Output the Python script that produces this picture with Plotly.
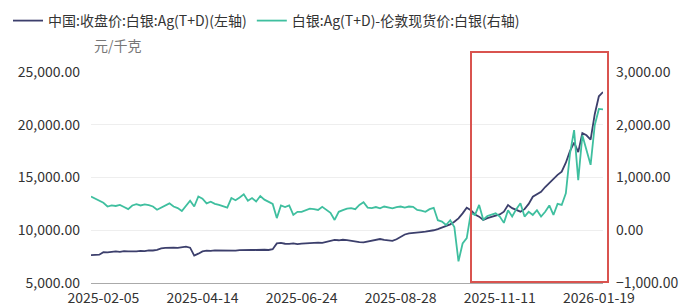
import plotly.graph_objects as go

# 中国:收盘价:白银:Ag(T+D) (元/千克), sampled about every other trading day
ag_td = [
    7650, 7630, 7680, 7920, 7900, 7960, 8000, 7950, 8020, 7990,
    7960, 8000, 8050, 8020, 8100, 8080, 8150, 8280, 8320, 8300,
    8350, 8330, 8400, 8440, 8350, 7600, 7780, 8000, 8060, 8040,
    8100, 8080, 8060, 8110, 8090, 8070, 8120, 8150, 8110, 8140,
    8130, 8170, 8150, 8130, 8200, 8750, 8800, 8720, 8700, 8760,
    8680, 8740, 8780, 8750, 8800, 8830, 8800, 8900, 9000, 9080,
    9050, 9100, 9060, 8980, 8930, 8880, 8860, 8950, 9050, 9120,
    9170, 9080, 9020, 8990, 9150, 9350, 9600, 9700, 9720, 9780,
    9820, 9860, 9900, 10000, 10100, 10240, 10400, 10560, 10800, 11130,
    11600, 12140, 11900, 11500, 11290, 10970, 11150, 11290, 11400, 11500,
    11760, 12390, 12100, 11900, 11760, 12000, 12500, 13180, 13450, 13650,
    14100, 14500, 14800, 15250, 15550, 16400, 17500, 18300, 17400, 19200,
    19000, 18600, 21000, 22700, 23100,
]

# 白银:Ag(T+D)-伦敦现货价:白银 (元/千克)
spread = [
    640, 600, 570, 520, 450, 470, 460, 480, 440, 400,
    470, 495, 470, 490, 475, 450, 390, 430, 470, 510,
    450, 420, 365, 470, 560, 450, 640, 600, 510, 540,
    500, 480, 460, 430, 610, 570, 620, 680, 560, 610,
    545, 650, 580, 540, 500, 230, 470, 440, 470, 290,
    350, 350, 380, 410, 400, 385, 445, 380, 330, 195,
    350, 380, 410, 420, 400, 480, 530, 430, 420, 440,
    415, 450, 430, 415, 440, 450, 430, 450, 445, 385,
    370, 350, 400, 425, 190, 165, 100, 190, 60, -590,
    -250, -150, 330, 290, 480, 200, 270, 300, 320, 260,
    140, 380, 260, 400, 510, 260, 350, 290, 380, 260,
    350, 470, 290, 500, 480, 700, 1450, 1900, 950, 1800,
    1500, 1240, 1990, 2300, 2290,
]

tick_idx = [3, 27, 51, 75, 99, 123]
tick_text = ["2025-02-05", "2025-04-14", "2025-06-24", "2025-08-28", "2025-11-11", "2026-01-19"]

left_ticks = [5000, 10000, 15000, 20000, 25000]
right_ticks = [-1000, 0, 1000, 2000, 3000]

name_left = "中国:收盘价:白银:Ag(T+D)(左轴)"
name_right = "白银:Ag(T+D)-伦敦现货价:白银(右轴)"

FONT = "Noto Sans CJK SC, Noto Sans, sans-serif"
DARK = "#3c3f6c"
GREEN = "#3fbf9f"
FS = 14

x = list(range(len(ag_td)))

fig = go.Figure()
fig.add_trace(go.Scatter(x=x, y=ag_td, name=name_left, mode="lines",
                         line=dict(color=DARK, width=1.8), yaxis="y"))
fig.add_trace(go.Scatter(x=x, y=spread, name=name_right, mode="lines",
                         line=dict(color=GREEN, width=1.8), yaxis="y2"))

W, H = 692, 306
L, R, T, B = 91, 89, 72, 23

fig.update_layout(
    width=W, height=H,
    margin=dict(l=L, r=R, t=T, b=B, pad=0, autoexpand=False),
    paper_bgcolor="white", plot_bgcolor="white",
    font=dict(family=FONT, size=FS, color="#333333"),
    showlegend=True,
    legend=dict(orientation="h", x=8 / W, xref="container", xanchor="left",
                y=1 - 5 / H, yref="container", yanchor="top",
                font=dict(size=FS, color="#333333"),
                itemwidth=30, bgcolor="rgba(0,0,0,0)"),
    xaxis=dict(range=[0, len(ag_td) - 1], tickmode="array", tickvals=tick_idx,
               ticktext=tick_text, showgrid=False, zeroline=False, automargin=False,
               showline=True, linecolor="#aaaaaa", linewidth=1, ticks="",
               ticklabelstandoff=2,
               tickfont=dict(size=FS, color="#333333")),
    yaxis=dict(range=[5000, 25000], tickmode="array", tickvals=left_ticks,
               tickformat=",.2f", showgrid=True, gridcolor="#eeeeee", automargin=False,
               zeroline=False, showline=False, ticks="", ticklabelstandoff=10,
               tickfont=dict(size=FS, color="#333333")),
    yaxis2=dict(range=[-1000, 3000], tickmode="array", tickvals=right_ticks,
                tickformat=",.2f", overlaying="y", side="right", showgrid=False,
                zeroline=False, showline=False, ticks="", ticklabelstandoff=12,
                automargin=False,
                tickfont=dict(size=FS, color="#333333")),
    annotations=[dict(text="元/千克", xref="paper", yref="paper",
                      x=(92 - L) / (W - L - R), y=(H - B - 45) / (H - T - B),
                      xanchor="left", yanchor="middle", showarrow=False,
                      font=dict(size=FS, color="#777777"))],
    shapes=[dict(type="rect", xref="paper", yref="paper",
                 x0=(471 - L) / (W - L - R), x1=(608 - L) / (W - L - R),
                 y0=(H - B - 282) / (H - T - B), y1=(H - B - 52) / (H - T - B),
                 line=dict(color="#d9534f", width=2), fillcolor="rgba(0,0,0,0)",
                 layer="above")],
)

fig.write_html("out.html")
